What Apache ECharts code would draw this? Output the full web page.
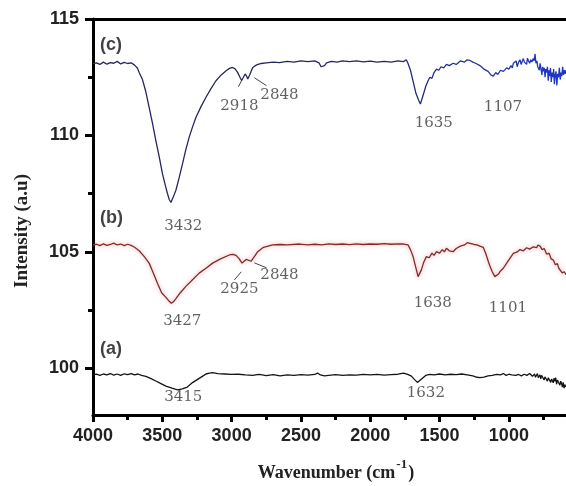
<!DOCTYPE html>
<html>
<head>
<meta charset="utf-8">
<script src="https://cdn.jsdelivr.net/npm/echarts@6.0.0/dist/echarts.min.js"></script>
<style>
html, body { margin: 0; padding: 0; background: #fff; }
#chart { width: 566px; height: 486px; }
</style>
</head>
<body>
<div id="chart"></div>
<script>
// wavenumber ticks
var majorX = [4000, 3500, 3000, 2500, 2000, 1500, 1000];
var minorX = [3750, 3250, 2750, 2250, 1750, 1250, 750];
var majorY = [100, 105, 110, 115];
var minorY = [102.5, 107.5, 112.5];

// spectrum (c)
var specC = [
	[4000,113.08],[3975,113.12],[3950,113.05],[3925,113.15],[3900,113.06],[3875,113.13],[3850,113.1],[3825,113.18],
	[3800,113.07],[3775,113.14],[3750,113.09],[3725,113.12],[3700,113.02],[3680,112.9],[3667,112.7],[3643,112.4],
	[3620,111.9],[3595,111.21],[3570,110.5],[3547,109.79],[3523,109.1],[3499,108.36],[3480,107.9],[3463,107.51],
	[3450,107.25],[3438,107.12],[3425,107.3],[3402,107.65],[3378,108.2],[3354,108.79],[3330,109.4],[3306,109.93],
	[3280,110.4],[3257,110.78],[3220,111.25],[3185,111.64],[3150,112.0],[3113,112.35],[3075,112.6],[3040,112.78],
	[3015,112.88],[2993,112.92],[2975,112.86],[2957,112.71],[2940,112.5],[2928,112.36],[2915,112.5],[2903,112.64],
	[2892,112.55],[2884,112.42],[2870,112.6],[2848,112.92],[2820,113.03],[2787,113.09],[2750,113.12],[2700,113.15],
	[2655,113.13],[2600,113.18],[2550,113.15],[2500,113.2],[2450,113.17],[2400,113.2],[2370,113.12],[2355,112.95],
	[2345,112.9],[2330,113.0],[2315,113.12],[2280,113.18],[2240,113.15],[2200,113.2],[2150,113.17],[2100,113.2],
	[2050,113.16],[2000,113.19],[1950,113.15],[1900,113.18],[1850,113.15],[1800,113.2],[1760,113.17],[1740,113.25],
	[1728,113.1],[1710,112.8],[1690,112.3],[1670,111.8],[1650,111.5],[1638,111.35],[1628,111.4],[1615,111.8],
	[1600,112.1],[1583,112.35],[1570,112.5],[1555,112.45],[1540,112.7],[1522,112.85],[1505,112.8],[1490,112.95],
	[1470,112.9],[1450,113.05],[1430,113.0],[1402,113.1],[1380,113.05],[1350,113.2],[1320,113.15],[1300,113.25],
	[1281,113.22],[1260,113.15],[1240,113.1],[1209,113.0],[1180,112.85],[1150,112.75],[1130,112.6],[1113,112.55],
	[1095,112.7],[1080,112.62],[1060,112.8],[1040,112.75],[1016,112.9],[1000,112.85],[985,113.0],[975,112.9],
	[968,113.1],[955,113.05],[948,113.2],[940,112.95],[930,113.15],[920,113.25],[912,113.05],[905,113.1],
	[896,113.3],[888,113.15],[880,113.2],[872,113.05],[866,113.32],[858,113.2],[850,113.1],[842,113.25],
	[834,113.15],[826,113.3],[818,113.2],[811,113.5],[805,113.1],[798,113.2],[792,112.95],[786,113.0],
	[780,112.8],[775,113.1],[768,112.85],[762,112.6],[756,112.95],[750,112.75],[745,112.9],[739,112.5],
	[734,112.85],[728,112.7],[722,112.95],[716,112.35],[711,112.8],[705,112.55],[700,112.9],[694,112.3],
	[689,112.7],[683,112.5],[677,112.85],[672,112.2],[666,112.6],[660,112.75],[654,112.15],[648,112.65],
	[642,112.5],[636,112.9],[630,112.4],[624,112.7],[618,112.55],[612,112.95],[606,112.6],[600,112.8],
	[594,112.65],[588,112.8]
];

// spectrum (b)
var specB = [
	[4000,105.3],[3975,105.33],[3950,105.27],[3925,105.35],[3900,105.28],[3875,105.32],[3850,105.38],[3825,105.3],
	[3800,105.34],[3775,105.27],[3750,105.33],[3725,105.28],[3700,105.2],[3667,105.05],[3630,104.8],[3595,104.52],
	[3565,104.1],[3535,103.66],[3505,103.25],[3474,103.05],[3450,102.88],[3435,102.8],[3420,102.86],[3402,103.0],
	[3370,103.25],[3330,103.52],[3280,103.82],[3234,104.09],[3185,104.3],[3137,104.52],[3080,104.7],[3017,104.87],
	[2990,104.9],[2968,104.85],[2945,104.7],[2925,104.52],[2910,104.6],[2895,104.68],[2884,104.62],[2860,104.6],
	[2848,104.62],[2830,104.85],[2812,105.01],[2770,105.2],[2704,105.3],[2650,105.32],[2600,105.3],[2510,105.34],
	[2450,105.3],[2400,105.33],[2350,105.3],[2300,105.35],[2250,105.32],[2200,105.34],[2150,105.31],[2100,105.35],
	[2050,105.32],[2000,105.34],[1950,105.33],[1900,105.36],[1850,105.33],[1800,105.35],[1760,105.34],[1727,105.3],
	[1710,105.1],[1691,104.8],[1672,104.35],[1655,103.94],[1643,104.0],[1631,104.23],[1615,104.55],[1595,104.8],
	[1575,104.75],[1555,104.95],[1540,104.85],[1522,105.01],[1500,104.95],[1480,105.1],[1465,105.0],[1450,105.16],
	[1430,105.05],[1402,105.01],[1380,105.15],[1350,105.25],[1320,105.3],[1300,105.4],[1281,105.37],[1250,105.32],
	[1230,105.3],[1209,105.25],[1185,105.2],[1165,104.9],[1149,104.6],[1137,104.4],[1120,104.15],[1101,103.94],
	[1090,103.92],[1075,104.05],[1064,104.16],[1040,104.3],[1016,104.52],[990,104.75],[968,104.94],[940,105.0],
	[920,105.1],[896,105.05],[872,105.18],[850,105.12],[824,105.22],[800,105.18],[790,105.3],[775,105.25],
	[760,105.1],[745,105.15],[727,104.9],[710,104.95],[695,104.7],[679,104.65],[665,104.45],[650,104.5],
	[640,104.3],[630,104.25],[615,104.1],[600,104.15],[588,104.02]
];

// spectrum (a)
var specA = [
	[4000,99.72],[3975,99.75],[3950,99.7],[3925,99.76],[3900,99.72],[3875,99.78],[3850,99.71],[3825,99.76],
	[3800,99.7],[3775,99.77],[3750,99.73],[3725,99.78],[3700,99.72],[3675,99.76],[3650,99.7],[3619,99.66],
	[3585,99.57],[3547,99.46],[3510,99.35],[3474,99.24],[3430,99.15],[3390,99.08],[3356,99.12],[3320,99.2],
	[3282,99.39],[3240,99.55],[3200,99.7],[3185,99.76],[3160,99.8],[3137,99.82],[3100,99.78],[3050,99.76],
	[3000,99.74],[2950,99.75],[2900,99.72],[2850,99.7],[2800,99.74],[2750,99.69],[2700,99.73],[2650,99.68],
	[2600,99.72],[2550,99.7],[2500,99.73],[2450,99.71],[2400,99.74],[2380,99.8],[2360,99.72],[2330,99.68],
	[2300,99.7],[2250,99.73],[2200,99.7],[2150,99.72],[2100,99.71],[2050,99.74],[2000,99.72],[1950,99.74],
	[1900,99.71],[1850,99.73],[1800,99.75],[1760,99.8],[1730,99.74],[1703,99.67],[1680,99.52],[1660,99.4],
	[1648,99.42],[1630,99.55],[1619,99.62],[1600,99.7],[1570,99.74],[1540,99.72],[1500,99.76],[1460,99.72],
	[1420,99.75],[1380,99.73],[1340,99.76],[1300,99.72],[1260,99.68],[1230,99.62],[1209,99.6],[1180,99.63],
	[1150,99.68],[1120,99.7],[1089,99.74],[1060,99.72],[1040,99.78],[1020,99.7],[1000,99.75],[980,99.72],
	[968,99.8],[950,99.7],[930,99.74],[910,99.68],[890,99.75],[870,99.7],[850,99.78],[842,99.7],
	[836,99.74],[830,99.66],[822,99.72],[815,99.76],[808,99.62],[800,99.7],[794,99.78],[788,99.6],
	[782,99.66],[776,99.72],[770,99.55],[764,99.7],[758,99.62],[752,99.75],[746,99.5],[740,99.64],
	[734,99.58],[728,99.7],[722,99.45],[716,99.6],[710,99.52],[704,99.66],[698,99.4],[692,99.55],
	[686,99.62],[680,99.38],[674,99.58],[668,99.45],[662,99.6],[656,99.32],[650,99.5],[644,99.42],
	[638,99.55],[632,99.28],[626,99.45],[620,99.35],[614,99.2],[608,99.4],[602,99.15],[596,99.3],
	[588,99.2]
];

// peak labels [wavenumber, intensity, text]
var peakLabels = [
	[3349,106.1,'3432'],[2944,111.25,'2918'],[2655,111.75,'2848'],[1542,110.55,'1635'],[1043,111.2,'1107'],
	[3356,102.05,'3427'],[2944,103.4,'2925'],[2655,104.0,'2848'],[1549,102.8,'1638'],[1007,102.6,'1101'],
	[3349,98.75,'3415'],[1599,98.95,'1632']
];
// leader lines for the shoulder peaks
var leaders = [
	[[2951,112.09],[2926,112.38]],
	[[2836,112.48],[2749,112.14]],
	[[2980,103.8],[2930,104.15]],
	[[2836,104.53],[2749,104.32]]
];
// sample labels
var sampleLabels = [[3949,113.9,'(c)'],[3949,106.45,'(b)'],[3949,100.85,'(a)']];

var chart = echarts.init(document.getElementById('chart'));

var tickFont = { fontFamily: 'Liberation Sans', fontWeight: 'bold', fontSize: 18, color: '#222' };
var plain = function(v) { return String(v); };

var option = {
	animation: false,
	backgroundColor: '#fff',
	grid: { left: 93, right: 0, top: 19, bottom: 71 },
	xAxis: [
		{
			type: 'value', inverse: true, min: 588, max: 4000, position: 'bottom',
			axisLine: { show: true, onZero: false, lineStyle: { color: '#000', width: 3 } },
			axisTick: { show: true, inside: false, length: 7, customValues: majorX, lineStyle: { color: '#000', width: 3 } },
			axisLabel: Object.assign({ margin: 12, customValues: majorX, formatter: plain }, tickFont),
			splitLine: { show: false }
		},
		{
			type: 'value', inverse: true, min: 588, max: 4000, position: 'bottom',
			axisLine: { show: false },
			axisTick: { show: true, inside: false, length: 5, customValues: minorX, lineStyle: { color: '#000', width: 3 } },
			axisLabel: { show: false },
			splitLine: { show: false }
		},
		{
			type: 'value', inverse: true, min: 588, max: 4000, position: 'top',
			axisLine: { show: true, onZero: false, lineStyle: { color: '#000', width: 3 } },
			axisTick: { show: false },
			axisLabel: { show: false },
			splitLine: { show: false }
		}
	],
	yAxis: [
		{
			type: 'value', min: 98, max: 115, position: 'left',
			axisLine: { show: true, onZero: false, lineStyle: { color: '#000', width: 3 } },
			axisTick: { show: true, inside: false, length: 8, customValues: majorY, lineStyle: { color: '#000', width: 3 } },
			axisLabel: Object.assign({ margin: 14, customValues: majorY, formatter: plain }, tickFont),
			splitLine: { show: false }
		},
		{
			type: 'value', min: 98, max: 115, position: 'left',
			axisLine: { show: false },
			axisTick: { show: true, inside: false, length: 5, customValues: minorY, lineStyle: { color: '#000', width: 3 } },
			axisLabel: { show: false },
			splitLine: { show: false }
		}
	],
	graphic: [
		{
			type: 'text', x: 22, y: 231, rotation: Math.PI / 2,
			style: {
				text: 'Intensity (a.u)', fill: '#222',
				font: 'bold 19px "Liberation Serif"',
				align: 'center', verticalAlign: 'middle'
			}
		},
		{
			type: 'text', x: 336, y: 470,
			style: {
				text: '{b|Wavenumber (cm}{s|-1}{b|)}',
				align: 'center', verticalAlign: 'middle',
				rich: {
					b: { font: 'bold 18px "Liberation Serif"', fill: '#222', lineHeight: 24, verticalAlign: 'bottom' },
					s: { font: 'bold 13px "Liberation Serif"', fill: '#222', lineHeight: 24, verticalAlign: 'top', padding: [0, 1, 0, 1] }
				}
			}
		}
	],
	series: [
		{
			type: 'line', name: 'c', data: specC, showSymbol: false, silent: true,
			lineStyle: {
				width: 1.3,
				color: new echarts.graphic.LinearGradient(0, 0, 1, 0, [
					{ offset: 0, color: '#25255f' },
					{ offset: 0.62, color: '#25265f' },
					{ offset: 0.75, color: '#24308f' },
					{ offset: 0.9, color: '#1f35b5' },
					{ offset: 1, color: '#1c38cc' }
				])
			}
		},
		{
			type: 'line', name: 'b', data: specB, showSymbol: false, silent: true,
			lineStyle: { width: 1.3, color: '#7e2b2b', shadowBlur: 4, shadowColor: 'rgba(225,110,110,0.7)' }
		},
		{
			type: 'line', name: 'a', data: specA, showSymbol: false, silent: true,
			lineStyle: { width: 1.3, color: '#151515' }
		},
		{
			type: 'lines', coordinateSystem: 'cartesian2d', silent: true,
			data: leaders.map(function(d) { return { coords: d }; }),
			lineStyle: { color: '#444', width: 1, opacity: 1 }
		},
		{
			type: 'scatter', symbolSize: 0, silent: true,
			data: peakLabels.map(function(d) { return { value: [d[0], d[1]], name: d[2] }; }),
			label: {
				show: true, position: 'inside', formatter: '{b}',
				fontFamily: 'DejaVu Serif', fontSize: 15, color: '#3a3a3a'
			}
		},
		{
			type: 'scatter', symbolSize: 0, silent: true,
			data: sampleLabels.map(function(d) { return { value: [d[0], d[1]], name: d[2] }; }),
			label: {
				show: true, position: 'right', distance: 0, formatter: '{b}',
				fontFamily: 'Liberation Sans', fontWeight: 'bold', fontSize: 18, color: '#111'
			}
		}
	]
};

chart.setOption(option);
</script>
</body>
</html>
